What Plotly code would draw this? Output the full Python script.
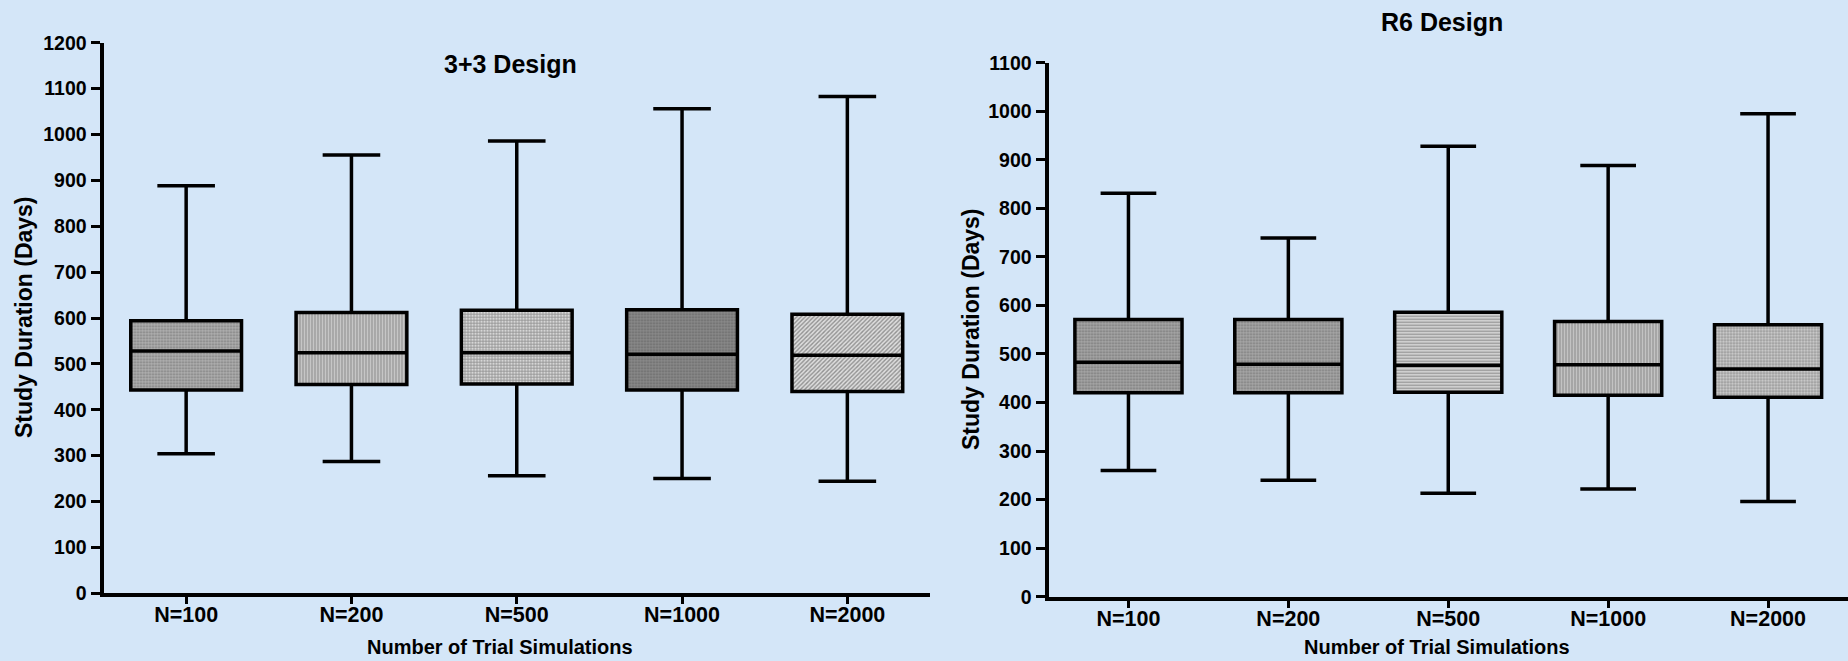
import plotly.graph_objects as go

categories = ["N=100", "N=200", "N=500", "N=1000", "N=2000"]

# 3+3 Design (left panel)
a_min = [304, 287, 256, 250, 244]
a_q1 = [443, 455, 456, 443, 440]
a_med = [528, 524, 524, 521, 519]
a_q3 = [594, 612, 617, 618, 608]
a_max = [888, 955, 986, 1056, 1083]

# R6 Design (right panel)
r_min = [260, 240, 213, 222, 196]
r_q1 = [420, 420, 421, 415, 411]
r_med = [483, 479, 477, 478, 469]
r_q3 = [571, 571, 586, 567, 560]
r_max = [831, 739, 928, 888, 995]

left_ticks = list(range(0, 1201, 100))
right_ticks = list(range(0, 1101, 100))

# fill patterns (style)
a_shape = [".", "|", "+", ".", "/"]
a_bg = ["#b0b0b0", "#d2d2d2", "#d6d6d6", "#8a8a8a", "#dedede"]
a_fg = ["#202020", "#555555", "#8a8a8a", "#404040", "#6a6a6a"]
a_sol = [0.35, 0.45, 0.45, 0.35, 0.45]
r_shape = [".", ".", "-", "|", "."]
r_bg = ["#a8a8a8", "#a8a8a8", "#dcdcdc", "#cfcfcf", "#d4d4d4"]
r_fg = ["#505050", "#000000", "#808080", "#5a5a5a", "#8a8a8a"]
r_sol = [0.4, 0.35, 0.45, 0.45, 0.45]

W, H = 1848, 661
BG = "#d4e6f8"
FONT = "Liberation Sans"

fig = go.Figure()

def add_panel(xa, ya, q1, q3, shapes, bgs, fgs, sols):
    fig.add_trace(go.Bar(
        x=categories, y=[b - a for a, b in zip(q1, q3)], base=q1,
        width=0.67, xaxis=xa, yaxis=ya, showlegend=False, hoverinfo="skip",
        marker=dict(color=bgs, line=dict(width=0),
                    pattern=dict(shape=shapes, fgcolor=fgs, bgcolor=bgs,
                                 size=3, solidity=sols)),
    ))

def add_box(xa, ya, q1, med, q3, lo, hi):
    fig.add_trace(go.Box(
        x=categories, q1=q1, median=med, q3=q3, lowerfence=lo, upperfence=hi,
        width=0.67, whiskerwidth=0.52, xaxis=xa, yaxis=ya,
        fillcolor="rgba(0,0,0,0)", line=dict(color="black", width=3.5),
        boxpoints=False, showlegend=False,
    ))

add_panel("x", "y", a_q1, a_q3, a_shape, a_bg, a_fg, a_sol)
add_panel("x2", "y2", r_q1, r_q3, r_shape, r_bg, r_fg, r_sol)
add_box("x", "y", a_q1, a_med, a_q3, a_min, a_max)
add_box("x2", "y2", r_q1, r_med, r_q3, r_min, r_max)

def xaxis(domain, anchor):
    return dict(domain=domain, anchor=anchor, type="category",
                range=[-0.5, 4.5], showline=True, linewidth=4, linecolor="black",
                ticks="outside", ticklen=7, tickwidth=3, tickcolor="black",
                ticklabelstandoff=-8,
                showgrid=False, zeroline=False, fixedrange=True, automargin=False,
                tickfont=dict(family=FONT, size=21.5, color="black", weight="bold"))

def yaxis(domain, anchor, top, ticks):
    return dict(domain=domain, anchor=anchor, range=[0, top],
                tickvals=ticks, ticktext=[str(t) for t in ticks],
                showline=True, linewidth=4, linecolor="black",
                ticks="outside", ticklen=9, tickwidth=3, tickcolor="black",
                showgrid=False, zeroline=False, fixedrange=True, automargin=False,
                tickfont=dict(family=FONT, size=19.5, color="black", weight="bold"))

fig.update_layout(
    width=W, height=H, autosize=False,
    margin=dict(l=0, r=0, t=0, b=0, autoexpand=False),
    paper_bgcolor=BG, plot_bgcolor=BG,
    barmode="overlay",
    xaxis=xaxis([103.5 / W, 930 / W], "y"),
    yaxis=yaxis([1 - 593.3 / H, 1 - 42.7 / H], "x", 1200, left_ticks),
    xaxis2=xaxis([1048.5 / W, 1848 / W], "y2"),
    yaxis2=yaxis([1 - 596.7 / H, 1 - 62.7 / H], "x2", 1100, right_ticks),
)

def ann(text, px, py, size, angle=0):
    fig.add_annotation(text=text, x=px / W, y=1 - py / H, xref="paper", yref="paper",
                       xanchor="center", yanchor="middle", showarrow=False, textangle=angle,
                       font=dict(family=FONT, size=size, color="black", weight="bold"))

ann("3+3 Design", 510, 64, 25)
ann("R6 Design", 1442, 22, 25)
ann("Number of Trial Simulations", 500, 647, 20)
ann("Number of Trial Simulations", 1437, 647, 20)
ann("Study Duration (Days)", 24, 317, 23, -90)
ann("Study Duration (Days)", 971, 329, 23, -90)

fig.write_html("out.html")
